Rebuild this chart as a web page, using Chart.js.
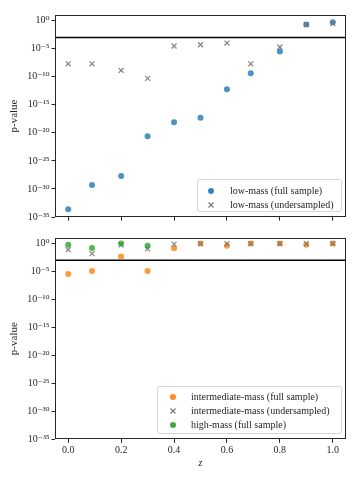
<!DOCTYPE html>
<html>
<head>
<meta charset="utf-8">
<script src="https://cdn.jsdelivr.net/npm/chart.js@4.4.0/dist/chart.umd.min.js"></script>
<style>
  body { margin: 0; background: #fff; }
  #wrap { position: relative; width: 360px; height: 480px; overflow: hidden; font-family: 'Liberation Serif', serif; }
  canvas { position: absolute; left: 0; }
  #c-low { top: 0; }
  #c-high { top: 230px; }
  .legend { position: absolute; box-sizing: border-box; border: 1px solid #d6d6d6; border-radius: 3px;
            background: rgba(255,255,255,0.8); font-size: 10px; color: #262626; padding-top: 4px; }
  .legend .row { position: relative; height: 14px; line-height: 14px; white-space: nowrap; }
  .legend .mk { position: absolute; top: 4px; width: 6px; height: 6px; }
  .legend .dot { border-radius: 50%; }
</style>
</head>
<body>
<div id="wrap">
  <canvas id="c-low" width="360" height="230"></canvas>
  <canvas id="c-high" width="360" height="250"></canvas>

  <div class="legend" id="leg-low" style="left:197px;top:179px;width:145px;height:33px;">
    <div class="row" style="padding-left:32px;"><span class="mk dot" style="left:10px;background:rgba(31,119,180,0.9)"></span>low-mass (full sample)</div>
    <div class="row" style="padding-left:32px;"><svg class="mk" style="left:10px" width="6" height="6"><path d="M0.5 0.5L5.5 5.5M5.5 0.5L0.5 5.5" stroke="#7a7a7a" stroke-width="1.2"/></svg>low-mass (undersampled)</div>
  </div>

  <div class="legend" id="leg-high" style="left:157px;top:386px;width:185px;height:48px;padding-top:3px;">
    <div class="row" style="padding-left:33px;"><span class="mk dot" style="left:12px;background:rgba(255,127,14,0.9)"></span>intermediate-mass (full sample)</div>
    <div class="row" style="padding-left:33px;"><svg class="mk" style="left:12px" width="6" height="6"><path d="M0.5 0.5L5.5 5.5M5.5 0.5L0.5 5.5" stroke="#7a7a7a" stroke-width="1.2"/></svg>intermediate-mass (undersampled)</div>
    <div class="row" style="padding-left:33px;"><span class="mk dot" style="left:12px;background:rgba(44,160,44,0.9)"></span>high-mass (full sample)</div>
  </div>
</div>

<script>
// redshift bins
var Z      = [0, 0.09, 0.2, 0.3, 0.4, 0.5, 0.6, 0.69, 0.8, 0.9, 1.0];
var Z_HIGH = [0, 0.09, 0.2, 0.3];

// p-values
var LOW_FULL   = [2.5e-34, 5e-30, 2e-28, 2.5e-21, 8e-19, 5e-18, 5.6e-13, 4e-10, 3e-6, 0.2, 0.5];
var LOW_UNDER  = [2e-8, 2e-8, 1.3e-9, 5e-11, 3e-5, 5e-5, 1e-4, 2e-8, 2e-5, 0.2, 0.3];
var INT_FULL   = [3.5e-6, 1.2e-5, 5e-3, 1.2e-5, 0.15, 1.0, 0.4, 1.0, 1.0, 0.6, 1.0];
var INT_UNDER  = [0.08, 0.016, 0.6, 0.11, 0.8, 1.0, 1.0, 1.0, 1.0, 1.0, 1.0];
var HIGH_FULL  = [0.6, 0.17, 1.0, 0.4];

var P_LIMIT = 1e-3;
var X_RANGE = [-0.05, 1.05];
var X_TICKS = [0, 0.2, 0.4, 0.6, 0.8, 1.0];
var Y_EXPS  = [-35, -30, -25, -20, -15, -10, -5, 0];

var FONT = "'Liberation Serif', 'DejaVu Serif', serif";
var INK = '#262626';
var SUP = { '0':'⁰','1':'¹','2':'²','3':'³','4':'⁴','5':'⁵','6':'⁶','7':'⁷','8':'⁸','9':'⁹','-':'⁻' };

function expLabel(v) {
  var e = Math.round(Math.log10(v));
  return '10' + String(e).split('').map(function(c) { return SUP[c]; }).join('');
}

function pts(xs, ys) {
  return ys.map(function(y, i) { return { x: xs[i], y: y }; });
}

var frame = {
  id: 'frame',
  afterDatasetsDraw: function(chart) {
    var a = chart.chartArea, c = chart.ctx;
    c.save();
    c.strokeStyle = INK;
    c.lineWidth = 1;
    c.strokeRect(Math.round(a.left) + 0.5, Math.round(a.top) + 0.5, Math.round(a.width) - 1, Math.round(a.height) - 1);
    c.restore();
  }
};

function limitLine() {
  return {
    type: 'line', data: pts(X_RANGE, [P_LIMIT, P_LIMIT]),
    borderColor: '#000', borderWidth: 1.5, pointRadius: 0, order: 9
  };
}
function dots(data, color, order) {
  return { type: 'scatter', data: data, backgroundColor: color, borderWidth: 0, pointRadius: 3, order: order };
}
function crosses(data, order) {
  return { type: 'scatter', data: data, pointStyle: 'crossRot', borderColor: 'rgba(110,110,110,0.85)',
           borderWidth: 1.2, pointRadius: 3.5, order: order };
}

function makeOptions(showX, xHeight, padTop) {
  return {
    responsive: false,
    animation: false,
    layout: { padding: { left: 0, right: 14, top: padTop, bottom: 0 } },
    plugins: { legend: { display: false }, tooltip: { enabled: false } },
    scales: {
      x: {
        type: 'linear', min: X_RANGE[0], max: X_RANGE[1],
        afterBuildTicks: function(s) { s.ticks = X_TICKS.map(function(v) { return { value: v }; }); },
        afterFit: function(s) { s.height = xHeight; },
        ticks: { display: showX, maxRotation: 0, padding: 2, color: INK, font: { family: FONT, size: 10 },
                 callback: function(v) { return v.toFixed(1); } },
        grid: { display: true, drawOnChartArea: false, tickLength: 3.5, color: INK },
        border: { display: false },
        title: { display: showX, text: 'z', color: INK, font: { family: FONT, size: 10, style: 'italic' },
                 padding: { top: 0, bottom: 11 } }
      },
      y: {
        type: 'logarithmic', min: 1e-35, max: 10,
        afterBuildTicks: function(s) { s.ticks = Y_EXPS.map(function(e) { return { value: Math.pow(10, e) }; }); },
        afterFit: function(s) { s.width = 55; },
        ticks: { autoSkip: false, padding: 2, color: INK, font: { family: FONT, size: 10 },
                 callback: function(v) { return expLabel(v); } },
        grid: { display: true, drawOnChartArea: false, tickLength: 3.5, color: INK },
        border: { display: false },
        title: { display: true, text: 'p-value', color: INK, font: { family: FONT, size: 11 },
                 padding: { top: 8, bottom: 0 } }
      }
    }
  };
}

new Chart(document.getElementById('c-low'), {
  type: 'scatter',
  data: { datasets: [
    limitLine(),
    dots(pts(Z, LOW_FULL), 'rgba(31,119,180,0.8)', 3),
    crosses(pts(Z, LOW_UNDER), 2)
  ] },
  options: makeOptions(false, 13, 15),
  plugins: [frame]
});

new Chart(document.getElementById('c-high'), {
  type: 'scatter',
  data: { datasets: [
    limitLine(),
    dots(pts(Z, INT_FULL), 'rgba(255,127,14,0.8)', 4),
    crosses(pts(Z, INT_UNDER), 3),
    dots(pts(Z_HIGH, HIGH_FULL), 'rgba(44,160,44,0.8)', 2)
  ] },
  options: makeOptions(true, 40.7, 8),
  plugins: [frame]
});
</script>
</body>
</html>
